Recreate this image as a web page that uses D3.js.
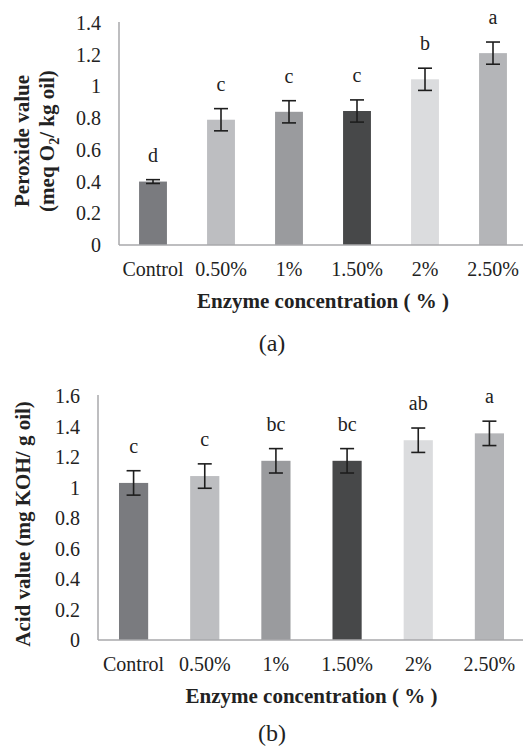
<!DOCTYPE html>
<html>
<head>
<meta charset="utf-8">
<script src="https://cdn.jsdelivr.net/npm/d3@7"></script>
<style>
  body { margin: 0; background: #fff; }
  svg { display: block; font-family: "Liberation Serif", "Times New Roman", serif; }
</style>
</head>
<body>
<svg width="523" height="748"></svg>
<script>
const categories = ["Control", "0.50%", "1%", "1.50%", "2%", "2.50%"];
const barColors = ["#7a7b7f", "#bdbec1", "#9a9b9e", "#474849", "#dbdcde", "#b4b5b8"];

// (a) peroxide value
const peroxide = [0.40, 0.79, 0.84, 0.845, 1.045, 1.21];
const peroxideErr = [0.012, 0.07, 0.07, 0.07, 0.07, 0.07];
const peroxideLetters = ["d", "c", "c", "c", "b", "a"];
const peroxideTicks = [0, 0.2, 0.4, 0.6, 0.8, 1, 1.2, 1.4];

// (b) acid value
const acid = [1.03, 1.075, 1.175, 1.175, 1.31, 1.355];
const acidErr = [0.08, 0.08, 0.08, 0.08, 0.08, 0.08];
const acidLetters = ["c", "c", "bc", "bc", "ab", "a"];
const acidTicks = [0, 0.2, 0.4, 0.6, 0.8, 1, 1.2, 1.4, 1.6];

const svg = d3.select("svg");

function panel(opt) {
    const g = svg.append("g");

    const x = d3.scaleBand()
        .domain(categories)
        .range([opt.left, opt.right])
        .paddingInner(0.59)
        .paddingOuter(0.295);

    const y = d3.scaleLinear()
        .domain([0, opt.max])
        .range([opt.bottom, opt.top]);

    // bars
    g.selectAll("rect.bar")
        .data(opt.values)
        .enter().append("rect")
            .attr("class", "bar")
            .attr("x", (d, i) => x(categories[i]))
            .attr("width", x.bandwidth())
            .attr("y", d => y(d))
            .attr("height", d => y(0) - y(d))
            .attr("fill", (d, i) => barColors[i]);

    // axes lines
    g.append("line")
        .attr("x1", opt.left).attr("x2", opt.right)
        .attr("y1", y(0)).attr("y2", y(0))
        .attr("stroke", "#a9a9ab").attr("stroke-width", 1.5);
    g.append("line")
        .attr("x1", opt.left).attr("x2", opt.left)
        .attr("y1", y(0)).attr("y2", y(opt.max) - 1)
        .attr("stroke", "#a9a9ab").attr("stroke-width", 1.5);

    // y tick labels
    g.selectAll("text.ytick")
        .data(opt.ticks)
        .enter().append("text")
            .attr("class", "ytick")
            .attr("x", opt.left - 18)
            .attr("y", d => y(d))
            .attr("dy", "0.35em")
            .attr("text-anchor", "end")
            .attr("font-size", 20)
            .attr("fill", "#222")
            .text(d => d3.format("")(d));

    // x tick labels
    g.selectAll("text.xtick")
        .data(categories)
        .enter().append("text")
            .attr("class", "xtick")
            .attr("x", d => x(d) + x.bandwidth() / 2)
            .attr("y", y(0) + 31)
            .attr("text-anchor", "middle")
            .attr("font-size", 20)
            .attr("fill", "#222")
            .text(d => d);

    // error bars
    const cap = 7;
    const eb = g.selectAll("g.err")
        .data(opt.values)
        .enter().append("g")
            .attr("class", "err")
            .attr("stroke", "#1e1e1e")
            .attr("stroke-width", 1.6);
    eb.append("line")
        .attr("x1", (d, i) => x(categories[i]) + x.bandwidth() / 2)
        .attr("x2", (d, i) => x(categories[i]) + x.bandwidth() / 2)
        .attr("y1", (d, i) => y(d - opt.err[i]))
        .attr("y2", (d, i) => y(d + opt.err[i]));
    eb.append("line")
        .attr("x1", (d, i) => x(categories[i]) + x.bandwidth() / 2 - cap)
        .attr("x2", (d, i) => x(categories[i]) + x.bandwidth() / 2 + cap)
        .attr("y1", (d, i) => y(d + opt.err[i]))
        .attr("y2", (d, i) => y(d + opt.err[i]));
    eb.append("line")
        .attr("x1", (d, i) => x(categories[i]) + x.bandwidth() / 2 - cap)
        .attr("x2", (d, i) => x(categories[i]) + x.bandwidth() / 2 + cap)
        .attr("y1", (d, i) => y(d - opt.err[i]))
        .attr("y2", (d, i) => y(d - opt.err[i]));

    // significance letters
    g.selectAll("text.letter")
        .data(opt.letters)
        .enter().append("text")
            .attr("class", "letter")
            .attr("x", (d, i) => x(categories[i]) + x.bandwidth() / 2)
            .attr("y", (d, i) => y(opt.values[i] + opt.err[i]) - 18)
            .attr("text-anchor", "middle")
            .attr("font-size", 20)
            .attr("fill", "#222")
            .text(d => d);

    // x title
    g.append("text")
        .attr("x", (opt.left + opt.right) / 2)
        .attr("y", y(0) + 63)
        .attr("text-anchor", "middle")
        .attr("font-size", 21)
        .attr("font-weight", "bold")
        .attr("fill", "#222")
        .text("Enzyme concentration ( % )");

    // y title
    const yt = g.append("text")
        .attr("transform", `translate(0,${opt.titleY}) rotate(-90)`)
        .attr("text-anchor", "middle")
        .attr("font-size", 21)
        .attr("font-weight", "bold")
        .attr("fill", "#222");
    opt.yTitle(yt);

    // panel label
    g.append("text")
        .attr("x", 272)
        .attr("y", opt.labelY)
        .attr("text-anchor", "middle")
        .attr("font-size", 24)
        .attr("fill", "#222")
        .text(opt.label);
}

panel({
    values: peroxide, err: peroxideErr, letters: peroxideLetters, ticks: peroxideTicks,
    max: 1.4, left: 119, right: 527, top: 23, bottom: 245,
    titleY: 141, labelY: 351, label: "(a)",
    yTitle: t => {
        t.append("tspan").attr("x", 0).attr("y", 29).text("Peroxide value");
        const l2 = t.append("tspan").attr("x", 0).attr("y", 54);
        l2.append("tspan").text("(meq O");
        l2.append("tspan").attr("font-size", 14).attr("dy", 5).text("2");
        l2.append("tspan").attr("dy", -5).text("/ kg oil)");
    }
});

panel({
    values: acid, err: acidErr, letters: acidLetters, ticks: acidTicks,
    max: 1.6, left: 98, right: 525, top: 396, bottom: 640,
    titleY: 524, labelY: 741, label: "(b)",
    yTitle: t => {
        t.append("tspan").attr("x", 0).attr("y", 30).text("Acid value (mg KOH/ g oil)");
    }
});
</script>
</body>
</html>
